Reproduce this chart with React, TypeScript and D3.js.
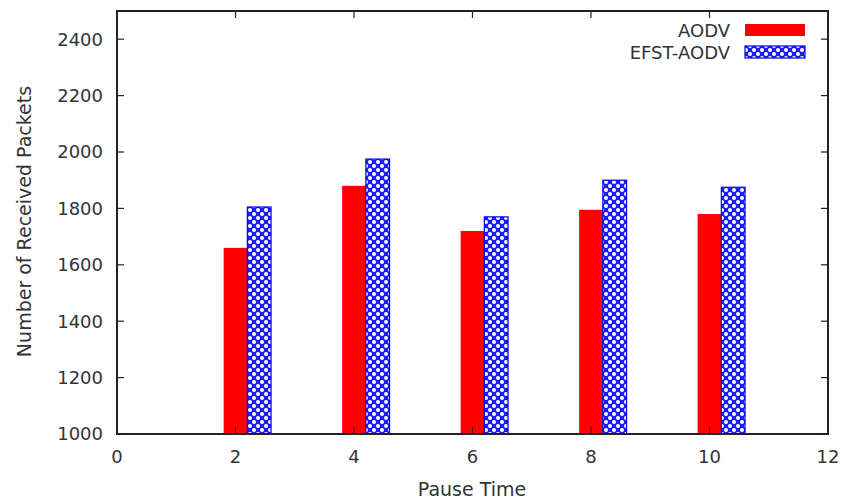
import React from "react";
import * as d3 from "d3";

const pauseTimes = [2, 4, 6, 8, 10];
const aodv = [1660, 1880, 1720, 1795, 1780];
const efstAodv = [1805, 1975, 1770, 1900, 1875];
const xTicks = [0, 2, 4, 6, 8, 10, 12];
const yTicks = [1000, 1200, 1400, 1600, 1800, 2000, 2200, 2400];

const W = 843, H = 504;
const M = { left: 117, right: 15, top: 11, bottom: 70 };

export default function App() {
  const x = d3.scaleLinear().domain([0, 12]).range([M.left, W - M.right]);
  const y = d3.scaleLinear().domain([1000, 2500]).range([H - M.bottom, M.top]);
  const bw = 0.4;
  const font = "DejaVu Sans, sans-serif";
  const fs = 18;
  const fl = 19;
  const tickLen = 7;
  const x0 = x(0), x1 = x(12), y0 = y(1000), y1 = y(2500);
  return (
    <svg width={W} height={H} style={{ position: "absolute", left: 0, top: 0 }} fontFamily={font}>
      <defs>
        <pattern id="hatch" width="8" height="8" patternUnits="userSpaceOnUse">
          <rect width="8" height="8" fill="#1a1aff" />
          <circle cx="2" cy="2" r="2" fill="white" />
          <circle cx="6" cy="6" r="2" fill="white" />
        </pattern>
      </defs>
      <rect width={W} height={H} fill="white" />
      {pauseTimes.map((p, i) => (
        <g key={p}>
          <rect x={x(p - bw / 2)} y={y(aodv[i])} width={x(p + bw / 2) - x(p - bw / 2)} height={y0 - y(aodv[i])} fill="#ff0000" />
          <rect x={x(p + bw / 2)} y={y(efstAodv[i])} width={x(p + bw / 2 + bw) - x(p + bw / 2)} height={y0 - y(efstAodv[i])} fill="url(#hatch)" stroke="#0000ff" strokeWidth={1.2} />
        </g>
      ))}
      <rect x={x0} y={y1} width={x1 - x0} height={y0 - y1} fill="none" stroke="#222" strokeWidth={2} />
      {yTicks.map((t) => (
        <g key={t}>
          <line x1={x0} x2={x0 + tickLen} y1={y(t)} y2={y(t)} stroke="#222" strokeWidth={1.2} />
          <line x1={x1} x2={x1 - tickLen} y1={y(t)} y2={y(t)} stroke="#222" strokeWidth={1.2} />
          <text x={x0 - 14} y={y(t)} dy="0.35em" textAnchor="end" fontSize={fs} fill="#333">{t}</text>
        </g>
      ))}
      {xTicks.map((t) => (
        <g key={t}>
          <line x1={x(t)} x2={x(t)} y1={y0} y2={y0 - tickLen} stroke="#222" strokeWidth={1.2} />
          <line x1={x(t)} x2={x(t)} y1={y1} y2={y1 + tickLen} stroke="#222" strokeWidth={1.2} />
          <text x={x(t)} y={y0 + 29} textAnchor="middle" fontSize={fs} fill="#333">{t}</text>
        </g>
      ))}
      <text x={472} y={496} textAnchor="middle" fontSize={fl} fill="#333">Pause Time</text>
      <text transform={`translate(31,${(y0 + y1) / 2 - 1}) rotate(-90)`} textAnchor="middle" fontSize={fl} fill="#333">Number of Received Packets</text>
      <text x={730} y={31} dy="0.35em" textAnchor="end" fontSize={fs} fill="#333">AODV</text>
      <rect x={745} y={24} width={60} height={12} fill="#ff0000" />
      <text x={730} y={53} dy="0.35em" textAnchor="end" fontSize={fs} fill="#333">EFST-AODV</text>
      <rect x={745} y={46} width={60} height={12} fill="url(#hatch)" stroke="#0000ff" strokeWidth={1.2} />
    </svg>
  );
}
